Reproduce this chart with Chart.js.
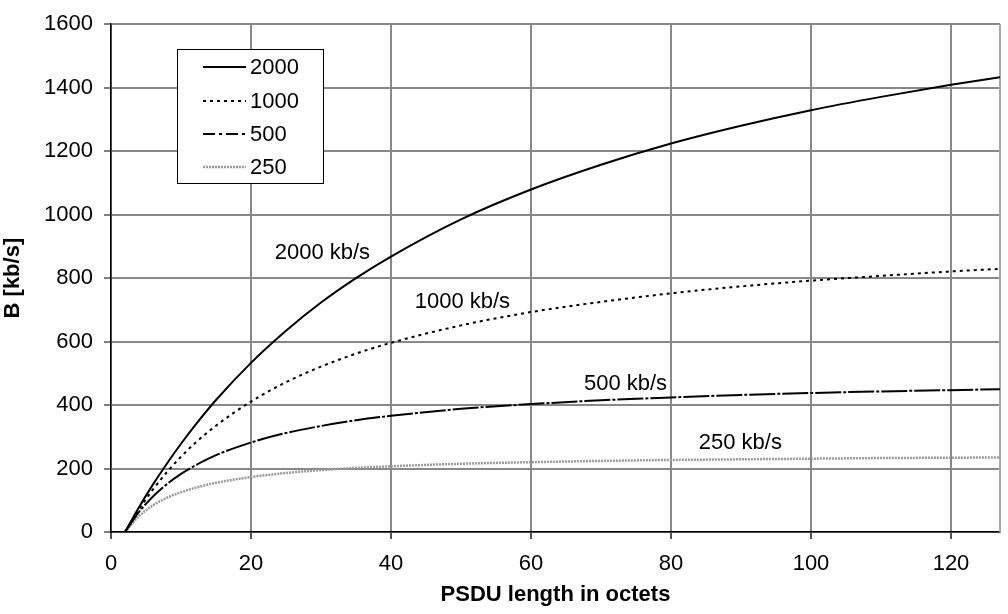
<!DOCTYPE html>
<html>
<head>
<meta charset="utf-8">
<title>B vs PSDU length</title>
<script src="https://cdn.jsdelivr.net/npm/chart.js@4.4.1/dist/chart.umd.min.js"></script>
<style>
	html, body { margin: 0; padding: 0; background: #fff; }
	#wrap { width: 1008px; height: 614px; }
</style>
</head>
<body>
<div id="wrap"><canvas id="chart" width="1008" height="614"></canvas></div>
<script>

// values, PSDU length (octets) -> B (kb/s)
const psduLength = [2, 4, 6, 8, 10, 12, 15, 20, 25, 30, 35, 40, 50, 60, 70, 80, 90, 100, 110, 120, 127];

const rate2000 = [0, 78, 150, 216, 278, 336, 416, 533, 634, 723, 800, 868, 985, 1079, 1157, 1224, 1280, 1329, 1371, 1409, 1433];
const rate1000 = [0, 72, 134, 189, 237, 280, 335, 411, 472, 521, 562, 596, 651, 693, 725, 752, 774, 792, 807, 821, 829];
const rate500  = [0, 63, 112, 151, 183, 209, 242, 282, 312, 334, 352, 366, 388, 403, 415, 424, 432, 438, 443, 447, 450];
const rate250  = [0, 50, 84, 108, 125, 139, 155, 173, 186, 195, 202, 207, 215, 220, 224, 227, 229, 231, 233, 234, 235];

const seriesNames = ['2000', '1000', '500', '250'];

// curve captions, anchored in data units
const captionText = ['2000 kb/s', '1000 kb/s', '500 kb/s', '250 kb/s'];
const captionX = [30.2, 50.2, 73.5, 89.9];
const captionY = [880, 726, 466, 282];

const xTitle = 'PSDU length in octets';
const yTitle = 'B [kb/s]';

const FONT = "'Liberation Sans', Arial, sans-serif";

function toPoints(values){
	return values.map((v, i) => ({ x: psduLength[i], y: v }));
}

// chart dash and legend-sample dash kept apart: the 500 curve reads almost solid on the plot
const styles = [
	{ color: '#000', width: 2, dash: [], keyDash: [] },
	{ color: '#000', width: 2, dash: [3, 4], keyDash: [3, 4] },
	{ color: '#000', width: 2, dash: [26, 2, 3, 2], keyDash: [12, 4, 3, 4] },
	{ color: '#9a9a9a', width: 2.5, dash: [2, 1], keyDash: [2, 1] }
];

const allValues = [rate2000, rate1000, rate500, rate250];

const datasets = allValues.map((vals, i) => ({
	label: seriesNames[i],
	data: toPoints(vals),
	borderColor: styles[i].color,
	borderWidth: styles[i].width,
	borderDash: styles[i].dash,
	pointRadius: 0,
	fill: false,
	cubicInterpolationMode: 'monotone'
}));

// right edge of the plot, plus the captions and the boxed legend
const decorations = {
	id: 'decorations',
	beforeDatasetsDraw(chart){
		const ctx = chart.ctx;
		const area = chart.chartArea;
		ctx.save();
		ctx.strokeStyle = '#a8a8a8';
		ctx.lineWidth = 2;
		ctx.beginPath();
		ctx.moveTo(area.right, area.top);
		ctx.lineTo(area.right, area.bottom);
		ctx.stroke();
		ctx.restore();
	},
	afterDatasetsDraw(chart){
		const ctx = chart.ctx;
		const xs = chart.scales.x;
		const ys = chart.scales.y;

		ctx.save();
		ctx.font = '22px ' + FONT;
		ctx.fillStyle = '#000';
		ctx.textAlign = 'center';
		ctx.textBaseline = 'middle';
		captionText.forEach((t, i) => {
			ctx.fillText(t, xs.getPixelForValue(captionX[i]), ys.getPixelForValue(captionY[i]));
		});

		// legend box
		const bx = 177.5, by = 49.5, bw = 146, bh = 134;
		ctx.fillStyle = '#fff';
		ctx.fillRect(bx, by, bw, bh);
		ctx.strokeStyle = '#000';
		ctx.lineWidth = 1;
		ctx.strokeRect(bx, by, bw, bh);

		const rowY = [67, 101, 134, 167];
		chart.data.datasets.forEach((ds, i) => {
			ctx.strokeStyle = ds.borderColor;
			ctx.lineWidth = ds.borderWidth;
			ctx.setLineDash(styles[i].keyDash);
			ctx.beginPath();
			ctx.moveTo(203, rowY[i]);
			ctx.lineTo(246, rowY[i]);
			ctx.stroke();
			ctx.setLineDash([]);
			ctx.fillStyle = '#000';
			ctx.textAlign = 'left';
			ctx.fillText(ds.label, 250, rowY[i] + 1);
		});
		ctx.restore();
	}
};

new Chart(document.getElementById('chart'), {
	type: 'line',
	data: { datasets: datasets },
	plugins: [decorations],
	options: {
		responsive: false,
		animation: false,
		layout: { padding: { top: 21, right: 8, left: 0, bottom: 0 } },
		plugins: {
			legend: { display: false },
			tooltip: { enabled: false }
		},
		scales: {
			x: {
				type: 'linear',
				min: 0,
				max: 127,
				afterFit: (s) => { s.height = 82; },
				ticks: {
					stepSize: 20,
					includeBounds: false,
					color: '#000',
					font: { family: FONT, size: 22 },
					padding: 12,
					maxRotation: 0,
					callback: (v) => String(v)
				},
				grid: { color: '#888', lineWidth: 2, tickColor: '#555', tickWidth: 2, tickLength: 7 },
				border: { color: '#000', width: 1.5 },
				title: {
					display: true,
					text: xTitle,
					color: '#000',
					font: { family: FONT, size: 22, weight: 'bold' },
					padding: { top: 0, bottom: 6 }
				}
			},
			y: {
				min: 0,
				max: 1600,
				afterFit: (s) => { s.width = 111; },
				ticks: {
					stepSize: 200,
					color: '#000',
					font: { family: FONT, size: 22 },
					padding: 11,
					callback: (v) => String(v)
				},
				grid: { color: '#888', lineWidth: 2, tickColor: '#000', tickWidth: 1, tickLength: 7 },
				border: { color: '#000', width: 1.5 },
				title: {
					display: true,
					text: yTitle,
					color: '#000',
					font: { family: FONT, size: 22, weight: 'bold' },
					padding: { top: 0, bottom: 7 }
				}
			}
		}
	}
});

</script>
</body>
</html>
